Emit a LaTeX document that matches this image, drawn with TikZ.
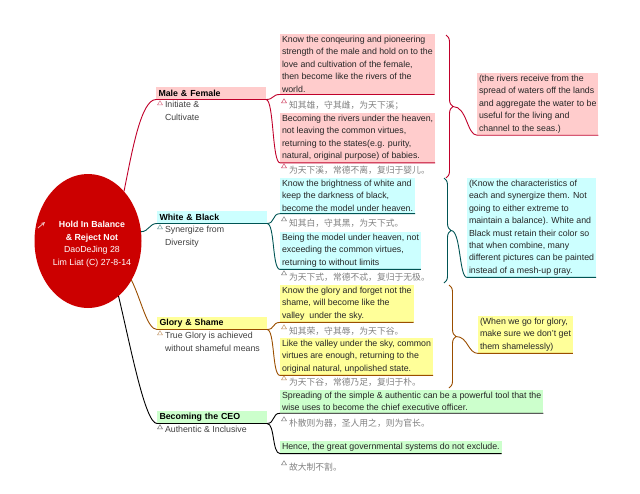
\documentclass[tikz,border=0pt]{standalone}
\usepackage{fontspec}
\setmainfont{Liberation Sans}
\newfontfamily\cjkfont{Noto Sans CJK SC}
\usetikzlibrary{shapes.geometric,decorations.pathreplacing,calc}

\definecolor{rootred}{HTML}{CC0000}
\definecolor{mfcol}{HTML}{C0002A}
\definecolor{mffill}{HTML}{FFCCCC}
\definecolor{wbcol}{HTML}{005454}
\definecolor{wbfill}{HTML}{CCFFFF}
\definecolor{gscol}{HTML}{9A4E00}
\definecolor{gsfill}{HTML}{FFFF99}
\definecolor{ceocol}{HTML}{000000}
\definecolor{ceofill}{HTML}{CCFFCC}
\definecolor{bodygray}{HTML}{404040}
\definecolor{leaftext}{HTML}{262626}
\definecolor{cngray}{HTML}{808080}

\begin{document}
\begin{tikzpicture}[
		x=1pt, y=-1pt,
		every node/.style={inner sep=0pt, outer sep=0pt},
		root/.style={
			ellipse, fill=rootred,
			minimum width=107pt, minimum height=134pt
		},
		rootlabel/.style={text=white, align=center, font=\fontsize{8.8}{12.5}\selectfont},
		topic/.style={
			anchor=south west, fill=#1, text=black,
			minimum height=12.5pt, text width=105pt,
			inner xsep=2.5pt, align=left,
			font=\bfseries\fontsize{8.8}{10}\selectfont
		},
		sub/.style={anchor=north west, align=left, text=bodygray, font=\fontsize{8.8}{12.4}\selectfont},
		leaf/.style={
			anchor=north west, fill=#1,
			inner xsep=2pt, inner ysep=2.2pt,
			align=left, text=leaftext,
			font=\fontsize{8.8}{12.4}\selectfont
		},
		cn/.style={anchor=west, text=cngray, font=\cjkfont\fontsize{8.8}{10}\selectfont},
		link/.style={draw=#1, line width=0.9pt},
		summary/.style={draw=#1, line width=0.9pt, decorate, decoration={brace, amplitude=7pt}},
		pics/tri/.style={code={\draw[#1, line width=0.5pt, fill=white] (-2.5,1.8) -- (2.5,1.8) -- (0,-2.2) -- cycle;}}
		]
		\useasboundingbox (0,0) rectangle (640,493);
		
		% central topic
		\node[root] (root) at (88,241) {};
		\node[rootlabel] (rootText) at (92,244) {\textbf{Hold In Balance}\\ \textbf{\& Reject Not}\\ DaoDeJing 28\\ Lim Liat (C) 27-8-14};
		\draw[white!75!rootred, line width=0.8pt, -stealth] (38,228) -- (45,222);
		
		% main branches
		\node[topic=mffill] (mf) at (156,99.5) {Male \& Female};
		\node[topic=wbfill] (wb) at (157,223.5) {White \& Black};
		\node[topic=gsfill] (gs) at (157,329.5) {Glory \& Shame};
		\node[topic=ceofill] (ceo) at (157,423.5) {Becoming the CEO};
		
		\draw[link=mfcol] (root.54) .. controls +(8,-40) and +(-15,0) .. (mf.south west) -- (mf.south east);
		\draw[link=wbcol] (root.10) .. controls +(8,0) and +(-8,0) .. (wb.south west) -- (wb.south east);
		\draw[link=gscol] (root.-42) .. controls +(10,20) and +(-10,0) .. (gs.south west) -- (gs.south east);
		\draw[link=ceocol] (root.-61) .. controls +(12,50) and +(-12,0) .. (ceo.south west) -- (ceo.south east);
		
		\pic at (160,103) {tri=mfcol!55};
		\node[sub] (mfSub) at (165,101.5) {Initiate \&\\ Cultivate};
		\pic at (160,227) {tri=wbcol!55};
		\node[sub] (wbSub) at (165,226.5) {Synergize from\\ Diversity};
		\pic at (160,333) {tri=gscol!55};
		\node[sub] (gsSub) at (165,332.5) {True Glory is achieved\\ without shameful means};
		\pic at (160,427) {tri=ceocol!55};
		\node[sub] (ceoSub) at (165,426) {Authentic \& Inclusive};
		
		% Male & Female
		\node[leaf=mffill] (mf1) at (280,34) {Know the conqeuring and pioneering\\ strength of the male and hold on to the\\ love and cultivation of the female,\\ then become like the rivers of the\\ world.};
		\pic at (284,101) {tri=mfcol!70};
		\node[cn] (mf1cn) at (289,105) {知其雄，守其雌，为天下溪；};
		\node[leaf=mffill] (mf2) at (280,113) {Becoming the rivers under the heaven,\\ not leaving the common virtues,\\ returning to the states(e.g. purity,\\ natural, original purpose) of babies.};
		\pic at (284,166) {tri=mfcol!70};
		\node[cn] (mf2cn) at (289,170.5) {为天下溪，常德不离，复归于婴儿。};
		\draw[link=mfcol] (mf.south east) .. controls +(8,0) and +(-8,0) .. (mf1.south west) -- (mf1.south east);
		\draw[link=mfcol] (mf.south east) .. controls +(8,0) and +(-8,0) .. (mf2.south west) -- (mf2.south east);
		
		% White & Black
		\node[leaf=wbfill] (wb1) at (280,178) {Know the brightness of white and\\ keep the darkness of black,\\ become the model under heaven.};
		\pic at (284,219) {tri=cngray};
		\node[cn] (wb1cn) at (289,223) {知其白，守其黑，为天下式。};
		\node[leaf=wbfill] (wb2) at (280,232) {Being the model under heaven, not\\ exceeding the common virtues,\\ returning to without limits};
		\pic at (284,273) {tri=cngray};
		\node[cn] (wb2cn) at (289,277) {为天下式，常德不忒，复归于无极。};
		\draw[link=wbcol] (wb.south east) .. controls +(8,0) and +(-8,0) .. (wb1.south west) -- (wb1.south east);
		\draw[link=wbcol] (wb.south east) .. controls +(8,0) and +(-8,0) .. (wb2.south west) -- (wb2.south east);
		
		% Glory & Shame
		\node[leaf=gsfill] (gs1) at (280,285) {Know the glory and forget not the\\ shame, will become like the\\ valley\ \ under the sky.};
		\pic at (284,327) {tri=gscol!60};
		\node[cn] (gs1cn) at (289,331) {知其荣，守其辱，为天下谷。};
		\node[leaf=gsfill] (gs2) at (280,338) {Like the valley under the sky, common\\ virtues are enough, returning to the\\ original natural, unpolished state.};
		\pic at (284,378) {tri=gscol!60};
		\node[cn] (gs2cn) at (289,382) {为天下谷，常德乃足，复归于朴。};
		\draw[link=gscol] (gs.south east) .. controls +(8,0) and +(-8,0) .. (gs1.south west) -- (gs1.south east);
		\draw[link=gscol] (gs.south east) .. controls +(8,0) and +(-8,0) .. (gs2.south west) -- (gs2.south east);
		
		% Becoming the CEO
		\node[leaf=ceofill] (ceo1) at (280,390) {Spreading of the simple \& authentic can be a powerful tool that the\\ wise uses to become the chief executive officer.};
		\pic at (284,419) {tri=cngray};
		\node[cn] (ceo1cn) at (289,423) {朴散则为器，圣人用之，则为官长。};
		\node[leaf=ceofill] (ceo2) at (280,441) {Hence, the great governmental systems do not exclude.};
		\pic at (284,463) {tri=cngray};
		\node[cn] (ceo2cn) at (289,467) {故大制不割。};
		\draw[link=ceocol] (ceo.south east) .. controls +(8,0) and +(-8,0) .. (ceo1.south west) -- (ceo1.south east);
		\draw[link=ceocol] (ceo.south east) .. controls +(8,0) and +(-8,0) .. (ceo2.south west) -- (ceo2.south east);
		
		% summaries
		\coordinate (mfTop) at (446,35);
		\coordinate (mfBot) at (446,178);
		\draw[summary=mfcol] (mfTop) -- (mfBot);
		\coordinate (mfTip) at ($(mfTop)!0.5!(mfBot)+(7,0)$);
		\node[leaf=mffill] (mfNote) at (477,73) {(the rivers receive from the\\ spread of waters off the lands\\ and aggregate the water to be\\ useful for the living and\\ channel to the seas.)};
		\draw[link=mfcol] (mfTip) .. controls +(14,0) and +(-10,0) .. (mfNote.south west) -- (mfNote.south east);
		
		\coordinate (wbTop) at (444,178);
		\coordinate (wbBot) at (444,283);
		\draw[summary=wbcol] (wbTop) -- (wbBot);
		\coordinate (wbTip) at ($(wbTop)!0.5!(wbBot)+(7,0)$);
		\node[leaf=wbfill] (wbNote) at (467,178) {(Know the characteristics of\\ each and synergize them. Not\\ going to either extreme to\\ maintain a balance). White and\\ Black must retain their color so\\ that when combine, many\\ different pictures can be painted\\ instead of a mesh-up gray.};
		\draw[link=wbcol] (wbTip) .. controls +(10,0) and +(-8,0) .. (wbNote.south west) -- (wbNote.south east);
		
		\coordinate (gsTop) at (449,285);
		\coordinate (gsBot) at (449,388);
		\draw[summary=gscol] (gsTop) -- (gsBot);
		\coordinate (gsTip) at ($(gsTop)!0.5!(gsBot)+(7,0)$);
		\node[leaf=gsfill] (gsNote) at (478,316) {(When we go for glory,\\ make sure we don't get\\ them shamelessly)};
		\draw[link=gscol] (gsTip) .. controls +(12,0) and +(-10,0) .. (gsNote.south west) -- (gsNote.south east);
	\end{tikzpicture}
\end{document}
